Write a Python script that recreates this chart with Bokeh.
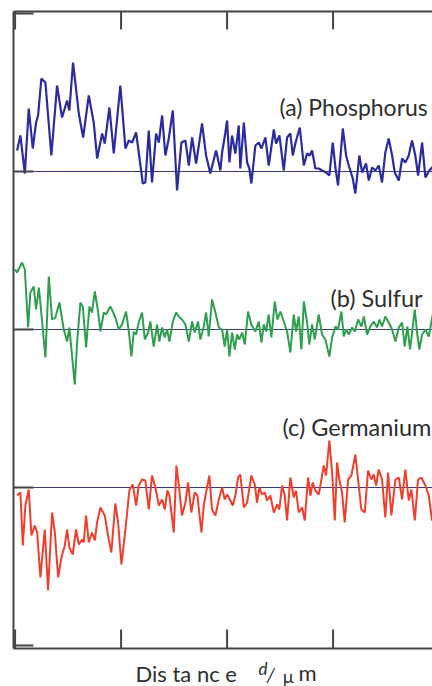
from bokeh.plotting import figure
from bokeh.models import Range1d, Label
from bokeh.embed import file_html
from bokeh.resources import INLINE

# ---------------- data (distance in µm, signal in arbitrary units) ----------------
dist_p = [0.019,0.050,0.092,0.129,0.167,0.198,0.217,0.248,0.286,0.342,
          0.396,0.443,0.491,0.512,0.547,0.601,0.642,0.695,0.742,0.774,
          0.821,0.846,0.890,0.931,0.993,1.041,1.073,1.104,1.142,1.205,
          1.229,1.261,1.292,1.330,1.356,1.387,1.418,1.450,1.488,1.528,
          1.569,1.607,1.639,1.670,1.708,1.764,1.802,1.842,1.896,1.937,
          1.953,1.984,2.000,2.022,2.047,2.078,2.110,2.125,2.158,2.189,
          2.210,2.229,2.267,2.299,2.324,2.361,2.393,2.441,2.462,2.494,
          2.535,2.566,2.597,2.620,2.644,2.686,2.724,2.755,2.780,2.802,
          2.833,2.865,2.896,2.934,2.965,2.997,3.022,3.047,3.092,3.123,
          3.148,3.186,3.210,3.248,3.274,3.311,3.337,3.368,3.399,3.431,
          3.462,3.493,3.525,3.557,3.582,3.620,3.651,3.682,3.714,3.745,
          3.776,3.802,3.840,3.871,3.908,3.953]
phosphorus = [21,36,-2,63,23,49,56,93,89,16,
              86,54,71,61,109,58,34,76,49,13,
              38,28,64,18,86,23,31,29,39,-12,
              -11,41,-11,38,29,56,16,33,61,-19,
              29,31,6,34,8,48,16,-2,21,1,
              19,39,51,9,36,18,46,3,49,9,
              3,-12,26,29,23,34,6,42,28,36,
              1,34,38,16,28,44,6,18,16,21,
              3,3,1,-1,-4,29,4,-14,43,16,
              6,-7,-22,16,-1,8,-9,4,1,6,
              -11,19,33,16,-1,-9,13,9,16,31,
              16,-4,29,-6,1,6]

dist_s = [0.000,0.019,0.066,0.092,0.123,0.144,0.176,0.198,0.224,0.255,
          0.286,0.318,0.349,0.380,0.418,0.459,0.491,0.512,0.538,0.563,
          0.585,0.616,0.639,0.670,0.701,0.726,0.752,0.783,0.805,0.837,
          0.858,0.899,0.922,0.946,0.978,1.009,1.047,1.073,1.097,1.120,
          1.142,1.167,1.198,1.224,1.255,1.276,1.308,1.340,1.361,1.387,
          1.412,1.434,1.456,1.488,1.519,1.544,1.575,1.607,1.639,1.670,
          1.695,1.726,1.748,1.780,1.802,1.827,1.858,1.890,1.922,
          1.953,1.978,2.000,2.022,2.047,2.073,2.094,2.116,2.142,2.167,
          2.198,2.229,2.267,2.299,2.324,2.346,2.368,2.393,2.418,2.450,
          2.475,2.503,2.535,2.566,2.597,2.629,2.651,2.676,2.701,2.724,
          2.755,2.776,2.802,2.827,2.865,2.896,2.927,2.965,2.991,3.022,
          3.047,3.078,3.101,3.123,3.148,3.179,3.205,3.236,3.267,3.290,
          3.321,3.352,3.384,3.415,3.437,3.462,3.493,3.525,3.557,3.588,
          3.620,3.651,3.676,3.701,3.726,3.752,3.771,3.792,3.814,3.840,
          3.871,3.903,3.941]
sulfur = [60,57,67,60,2,37,43,20,42,8,
          -28,53,10,12,27,0,-12,2,-27,-55,
          -13,27,23,-18,23,17,38,18,-2,17,
          15,23,18,12,0,5,18,-2,-27,-2,
          -5,7,17,-10,-3,8,-17,5,-12,2,
          -8,0,-12,8,17,13,10,5,-12,8,
          -3,8,-10,3,17,-7,30,17,2,
          0,-17,0,-27,-3,-20,-5,-10,-3,-15,
          18,5,-2,8,-13,5,-2,15,-8,28,
          10,18,8,-2,-23,15,-2,13,-20,28,
          7,-15,5,-10,15,-5,-10,-27,-8,3,
          0,18,-7,0,-5,2,-2,10,3,13,
          -5,3,8,2,10,3,13,7,0,-12,
          2,7,-17,3,-20,3,20,-3,-20,-5,
          0,-7,15]

dist_g = [0.019,0.050,0.073,0.097,0.129,0.154,0.186,0.208,0.239,0.280,
          0.311,0.349,0.375,0.406,0.437,0.469,0.491,0.512,0.544,0.575,
          0.601,0.632,0.648,0.670,0.695,0.726,0.752,0.774,0.805,0.846,
          0.884,0.908,0.946,0.972,1.003,1.041,1.078,1.110,1.142,1.167,
          1.198,1.229,1.261,1.292,1.324,1.356,1.387,1.412,1.437,1.456,
          1.497,1.522,1.544,1.575,1.607,1.632,1.663,1.695,1.720,1.758,
          1.780,1.802,1.833,1.858,1.890,1.922,
          1.953,1.978,2.000,2.031,2.054,2.078,2.104,2.125,2.158,2.189,
          2.229,2.261,2.283,2.305,2.330,2.356,2.377,2.408,2.441,2.472,
          2.493,2.519,2.544,2.566,2.597,2.629,2.651,2.676,2.708,2.733,
          2.764,2.786,2.808,2.833,2.865,2.890,2.912,2.934,2.965,2.991,
          3.016,3.038,3.059,3.085,3.110,3.142,3.173,3.210,3.242,3.267,
          3.299,3.330,3.361,3.384,3.406,3.431,3.462,3.493,3.519,3.550,
          3.588,3.620,3.651,3.682,3.714,3.739,3.771,3.802,3.833,3.871,
          3.903,3.934]
germanium = [-8,-5,-58,-18,-2,-48,-38,-45,-90,-42,
             -103,-25,-45,-90,-70,-58,-42,-60,-67,-42,
             -57,-52,-55,-28,-55,-45,-53,-35,-20,-28,
             -52,-65,-16,-35,-77,-42,-3,3,-18,2,
             8,7,-22,12,0,-18,-12,-22,-3,-8,
             -45,22,3,-28,-15,5,-25,-5,-8,-45,
             -18,-5,12,-22,-28,-12,
             0,-12,-7,-13,-18,-8,10,13,-20,-15,
             12,3,-15,0,-7,-5,-13,-8,-25,-17,
             -22,2,-8,-33,10,-10,-3,-25,-20,-33,
             10,-8,5,-3,-7,8,22,12,47,15,
             -33,25,8,-5,-35,8,12,33,2,-22,
             -25,17,8,13,2,18,8,-30,15,-28,
             8,10,-12,18,-13,-2,-33,8,10,2,
             -8,-33]

# vertical stacking offsets of each trace (baselines)
offsets = {"a": 474, "b": 316, "c": 158}
labels = {"a": "(a) Phosphorus", "b": "(b) Sulfur", "c": "(c) Germanium"}
x_ticks = [0, 1, 2, 3]
y_ticks = [0, 158, 316, 474, 632]

# ---------------- layout constants ----------------
X0, X1 = -0.015, 3.938          # plot box left / right (data)
Y0, Y1 = -3, 634                # plot box bottom / top (data)
PX_X = 106.0                    # pixels per x unit
X_CANVAS_LEFT = X0 - 13 / PX_X  # canvas spans beyond the plot box
Y_CANVAS_BOTTOM, Y_CANVAS_TOP = -41, 645

AX = "#444444"
FONT = "Lato"
TXT = "#2e2e2e"

p = figure(width=432, height=686, output_backend="svg", toolbar_location=None,
           x_range=Range1d(X_CANVAS_LEFT, X1), y_range=Range1d(Y_CANVAS_BOTTOM, Y_CANVAS_TOP),
           x_axis_location=None, y_axis_location=None, min_border=0)
p.outline_line_color = None
p.background_fill_color = "white"
p.border_fill_color = "white"
for g in p.grid:
    g.visible = False

# baselines of each trace
for k in ("a", "b", "c"):
    p.segment(x0=[X0], y0=[offsets[k]], x1=[X1], y1=[offsets[k]],
              line_color="#3c3c7c", line_width=1)

# traces
p.line(dist_p, [offsets["a"] + v for v in phosphorus], line_color="#2b2ba0", line_width=2.2)
p.line(dist_s, [offsets["b"] + v for v in sulfur], line_color="#2f9e4f", line_width=2.0)
p.line(dist_g, [offsets["c"] + v for v in germanium], line_color="#ef3e2c", line_width=2.0)

# axis box (left, bottom, top) with inward ticks
p.segment(x0=[X0, X0, X0], y0=[Y0, Y0, Y1], x1=[X0, X1, X1], y1=[Y1, Y0, Y1],
          line_color=AX, line_width=2)
p.segment(x0=x_ticks, y0=[Y0] * len(x_ticks), x1=x_ticks, y1=[Y0 + 19] * len(x_ticks),
          line_color=AX, line_width=2)
p.segment(x0=x_ticks, y0=[Y1] * len(x_ticks), x1=x_ticks, y1=[Y1 - 18] * len(x_ticks),
          line_color=AX, line_width=2)
p.segment(x0=[X0] * len(y_ticks), y0=y_ticks, x1=[X0 + 20 / PX_X] * len(y_ticks), y1=y_ticks,
          line_color=AX, line_width=2)

# trace labels
label_pos = {"a": (2.495, 539, "23px"), "b": (2.976, 348, "23.5px"), "c": (2.523, 219, "23.5px")}
for k, (lx, ly_, fs) in label_pos.items():
    p.add_layout(Label(x=lx, y=ly_, text=labels[k], text_font=FONT,
                       text_font_size=fs, text_color=TXT,
                       text_baseline="alphabetic", text_align="left"))

# axis title "Dis ta nc e d / µ m"
title_parts = [("Dis ta nc e", 1.136, -28, "22px", "normal"),
               ("d", 2.296, -23, "17px", "italic"),
               ("/", 2.372, -28, "20px", "italic"),
               ("\u00b5", 2.523, -30, "18px", "normal"),
               ("m", 2.674, -27, "22px", "normal")]
for txt, lx, ly_, fs, st in title_parts:
    p.add_layout(Label(x=lx, y=ly_, text=txt, text_font=FONT, text_font_size=fs,
                       text_font_style=st, text_color=TXT,
                       text_baseline="alphabetic", text_align="left"))

open("out.html", "w").write(file_html(p, INLINE))
